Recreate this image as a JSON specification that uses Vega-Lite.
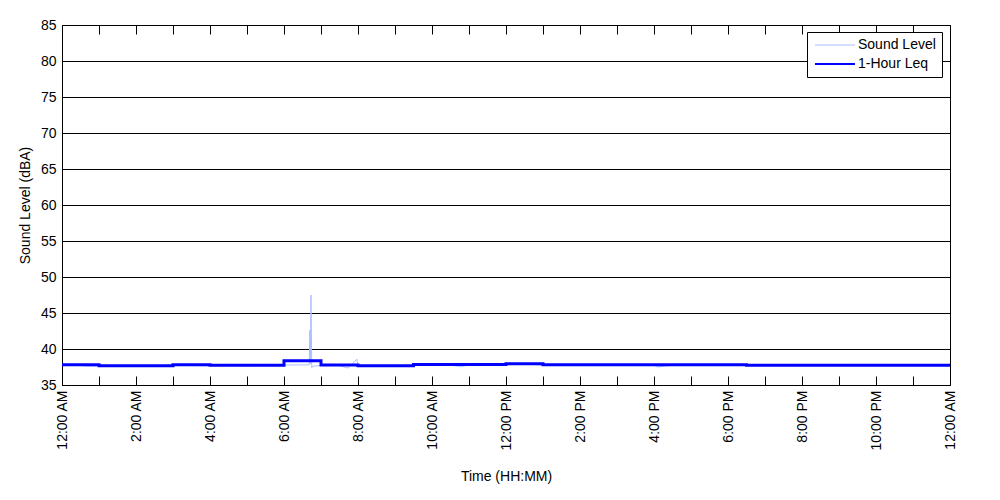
{
  "$schema": "https://vega.github.io/schema/vega-lite/v6.json",
  "width": 888,
  "height": 360,
  "autosize": {"type": "none"},
  "padding": {"left": 62, "top": 25, "right": 50, "bottom": 115},
  "background": "white",
  "config": {
    "font": "Liberation Sans",
    "view": {"stroke": "black", "strokeWidth": 1},
    "axis": {
      "labelFont": "Liberation Sans",
      "titleFont": "Liberation Sans",
      "labelFontSize": 14,
      "titleFontSize": 14,
      "titleFontWeight": "normal",
      "labelColor": "black",
      "titleColor": "black",
      "tickColor": "black",
      "domainColor": "black"
    }
  },
  "datasets": {
    "sound": [
      {"t": 0, "v": 37.75}, {"t": 0.5, "v": 37.7}, {"t": 0.75, "v": 37.6}, {"t": 1, "v": 37.65},
      {"t": 1.5, "v": 37.62}, {"t": 2, "v": 37.6}, {"t": 2.5, "v": 37.62}, {"t": 3, "v": 37.75},
      {"t": 3.5, "v": 37.7}, {"t": 4, "v": 37.68}, {"t": 4.5, "v": 37.7}, {"t": 5, "v": 37.66},
      {"t": 5.5, "v": 37.7}, {"t": 6, "v": 37.76}, {"t": 6.25, "v": 37.78}, {"t": 6.5, "v": 37.8},
      {"t": 6.68, "v": 37.8}, {"t": 6.7, "v": 42.6}, {"t": 6.71, "v": 37.9}, {"t": 6.73, "v": 47.5},
      {"t": 6.75, "v": 37.4}, {"t": 6.78, "v": 37.6}, {"t": 6.85, "v": 37.65}, {"t": 7, "v": 37.72},
      {"t": 7.5, "v": 37.7}, {"t": 7.73, "v": 37.35}, {"t": 7.8, "v": 37.68}, {"t": 7.97, "v": 38.6},
      {"t": 8, "v": 37.6}, {"t": 8.5, "v": 37.62}, {"t": 9, "v": 37.6}, {"t": 9.5, "v": 37.7},
      {"t": 10, "v": 37.8}, {"t": 10.5, "v": 37.75}, {"t": 10.8, "v": 37.55}, {"t": 11, "v": 37.8},
      {"t": 11.5, "v": 37.82}, {"t": 12, "v": 37.9}, {"t": 12.5, "v": 37.92}, {"t": 13, "v": 37.78},
      {"t": 13.5, "v": 37.76}, {"t": 14, "v": 37.75}, {"t": 14.5, "v": 37.77}, {"t": 15, "v": 37.76},
      {"t": 15.5, "v": 37.74}, {"t": 16, "v": 37.72}, {"t": 16.1, "v": 37.5}, {"t": 16.5, "v": 37.75},
      {"t": 17, "v": 37.76}, {"t": 17.5, "v": 37.74}, {"t": 18, "v": 37.76}, {"t": 18.5, "v": 37.7},
      {"t": 19, "v": 37.68}, {"t": 20, "v": 37.7}, {"t": 21, "v": 37.69}, {"t": 22, "v": 37.7},
      {"t": 23, "v": 37.68}, {"t": 24, "v": 37.7}
    ],
    "leq": [
      {"t": 0, "v": 37.82}, {"t": 1, "v": 37.68}, {"t": 3, "v": 37.82}, {"t": 4, "v": 37.74},
      {"t": 6, "v": 38.38}, {"t": 7, "v": 37.78}, {"t": 8, "v": 37.68}, {"t": 9.5, "v": 37.86},
      {"t": 12, "v": 37.96}, {"t": 13, "v": 37.82}, {"t": 16, "v": 37.8}, {"t": 18.5, "v": 37.74},
      {"t": 24, "v": 37.74}
    ]
  },
  "encoding": {
    "y": {
      "field": "v", "type": "quantitative",
      "scale": {"domain": [35, 85], "nice": false, "zero": false},
      "axis": {
        "values": [35,40,45,50,55,60,65,70,75,80,85],
        "grid": true,
        "gridColor": "black",
        "gridOpacity": 1,
        "gridWidth": 1,
        "tickSize": -9,
        "domain": false,
        "labelPadding": 15,
        "labelOverlap": false,
        "title": "Sound Level (dBA)",
        "titlePadding": 8,
        "labelFlush": false
      }
    }
  },
  "layer": [
    {
      "data": {"name": "sound"},
      "mark": {"type": "line", "strokeWidth": 1, "interpolate": "linear"},
      "encoding": {
        "x": {
          "field": "t", "type": "quantitative",
          "scale": {"domain": [0, 24], "nice": false, "zero": false},
          "axis": {
            "orient": "bottom",
            "values": [0,1,2,3,4,5,6,7,8,9,10,11,12,13,14,15,16,17,18,19,20,21,22,23,24],
            "labelExpr": "datum.value % 2 == 0 ? ((datum.value % 12 == 0 ? 12 : datum.value % 12) + ':00 ' + (datum.value % 24 < 12 ? 'AM' : 'PM')) : ''",
            "labelAngle": 270,
            "labelAlign": "right",
            "labelBaseline": "middle",
            "labelPadding": 14,
            "tickSize": -9,
            "domain": false,
            "grid": false,
            "title": "Time (HH:MM)",
            "titlePadding": 20,
            "labelOverlap": false,
            "labelFlush": false
          }
        },
        "color": {
          "datum": "Sound Level",
          "scale": {"domain": ["Sound Level", "1-Hour Leq"], "range": ["#aabfff", "#0000ff"]},
          "legend": {
            "orient": "none",
            "legendX": 745,
            "legendY": 7,
            "title": null,
            "symbolType": "stroke",
            "symbolSize": 1600,
            "symbolStrokeWidth": 1,
            "symbolOffset": 15,
            "labelFontSize": 14,
            "labelFont": "Liberation Sans",
            "labelColor": "black",
            "strokeColor": "black",
            "fillColor": "white",
            "padding": 6,
            "rowPadding": 5,
            "labelOffset": 16,
            "encode": {
              "symbols": {"update": {"strokeWidth": {"signal": "datum.value === '1-Hour Leq' ? 2 : 1"}}}
            }
          }
        }
      }
    },
    {
      "data": {"name": "leq"},
      "mark": {"type": "line", "strokeWidth": 3, "interpolate": "step-after"},
      "encoding": {
        "x": {
          "field": "t", "type": "quantitative",
          "axis": {
            "orient": "top",
            "values": [0,1,2,3,4,5,6,7,8,9,10,11,12,13,14,15,16,17,18,19,20,21,22,23,24],
            "labels": false,
            "tickSize": -9,
            "domain": false,
            "grid": false,
            "title": null
          }
        },
        "color": {"datum": "1-Hour Leq"}
      }
    }
  ],
  "resolve": {"axis": {"x": "independent"}}
}
